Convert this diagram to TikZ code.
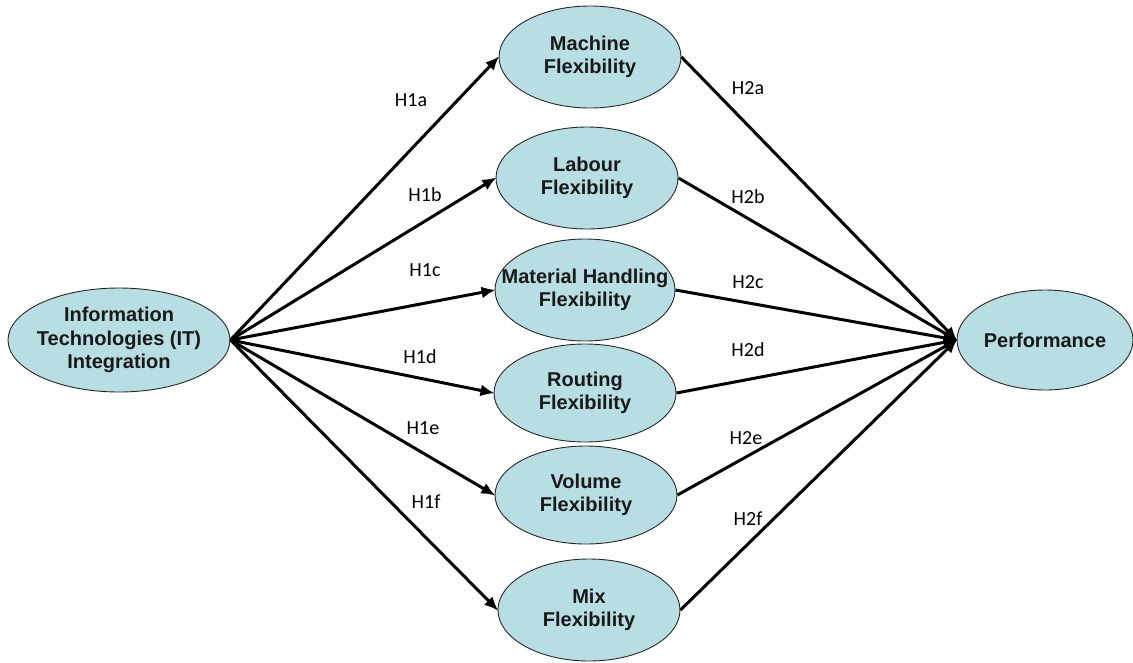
\documentclass[tikz,border=0pt]{standalone}
\usepackage{fontspec}
\setmainfont{Liberation Sans}
\newfontfamily\labfont{Carlito}
\usetikzlibrary{shapes.geometric,arrows.meta}
\definecolor{ellfill}{RGB}{183,222,226}
\definecolor{ellline}{RGB}{40,40,40}
\tikzset{
  ell/.style={ellipse, draw=ellline, line width=0.9pt, fill=ellfill, inner sep=0pt,
    align=center, font=\fontsize{20}{23.5}\selectfont\bfseries, text=black!90},
  mid/.style={ell, minimum width=182pt, minimum height=102pt},
  conn/.style={line width=3pt, -{Latex[length=14pt,width=12pt]}, shorten >=-1pt},
  hlab/.style={font=\labfont\fontsize{20}{22}\selectfont, inner sep=0pt}
}
\begin{document}
\begin{tikzpicture}[x=1pt,y=-1pt]
\useasboundingbox (0,0) rectangle (1133,662);
\node[ell, minimum width=222pt, minimum height=104pt, inner xsep=-12pt] (it) at (119,340) {Information\\Technologies (IT)\\Integration};
\node[mid] (m1) at (590,57) {Machine\\Flexibility};
\node[mid] (m2) at (587,178) {Labour\\Flexibility};
\node[mid, minimum width=180pt, inner xsep=-24pt] (m3) at (585,290) {Material Handling\\Flexibility};
\node[mid, minimum height=98pt] (m4) at (585,393) {Routing\\Flexibility};
\node[mid, minimum height=98pt] (m5) at (586,495) {Volume\\Flexibility};
\node[mid] (m6) at (589,610) {Mix\\Flexibility};
\node[ell, minimum width=176pt, minimum height=100pt] (perf) at (1045,340) {Performance};

\foreach \m in {m1,m2,m3,m4,m5,m6}{
  \draw[conn] (it.east) -- (\m.west);
  \draw[conn] (\m.east) -- (perf.west);
}

\node[hlab] (l1a) at (411,100) {H1a};
\node[hlab] (l1b) at (425,195) {H1b};
\node[hlab] (l1c) at (425,270) {H1c};
\node[hlab] (l1d) at (420,357) {H1d};
\node[hlab] (l1e) at (423,428) {H1e};
\node[hlab] (l1f) at (426,502) {H1f};
\node[hlab] (l2a) at (748,88) {H2a};
\node[hlab] (l2b) at (748,197) {H2b};
\node[hlab] (l2c) at (748,282) {H2c};
\node[hlab] (l2d) at (748,350) {H2d};
\node[hlab] (l2e) at (746,438) {H2e};
\node[hlab] (l2f) at (748,519) {H2f};
\end{tikzpicture}
\end{document}
